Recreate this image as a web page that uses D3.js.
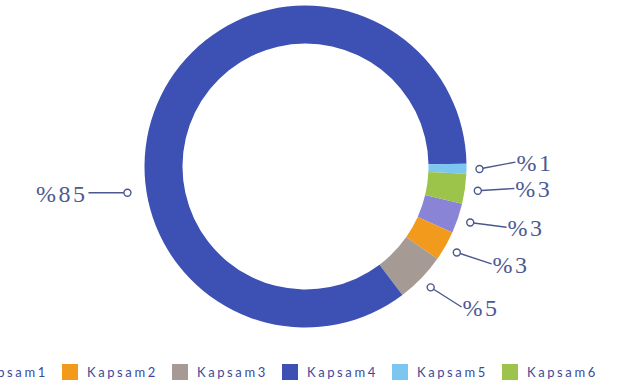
<!DOCTYPE html>
<html>
<head>
<meta charset="utf-8">
<script src="https://cdn.jsdelivr.net/npm/d3@7"></script>
<style>
  html, body { margin: 0; padding: 0; background: #ffffff; }
  svg { display: block; }
</style>
</head>
<body>
<svg id="chart" width="618" height="391"></svg>
<script>
// ---- data ----
const categories = ["Kapsam1", "Kapsam2", "Kapsam3", "Kapsam4", "Kapsam5", "Kapsam6"];
const values = [3, 3, 5, 85, 1, 3];
const colors = ["#8a84d6", "#f29a1c", "#a69a94", "#3d50b3", "#7cc6f0", "#9cc44b"];
const labels = ["%3", "%3", "%5", "%85", "%1", "%3"];

// ---- layout ----
const W = 618, H = 391;
const cx = 305.5, cy = 166.5;
const rOuter = 161, rInner = 123;
const rDot = 174, rEnd = 210;
const startDeg = 103.4;
const deg = Math.PI / 180;

const svg = d3.select("#chart");
const g = svg.append("g").attr("transform", `translate(${cx},${cy})`);

const pie = d3.pie().sort(null).value(d => d)
  .startAngle(startDeg * deg).endAngle(startDeg * deg + 2 * Math.PI);
const arcs = pie(values);
const arc = d3.arc().innerRadius(rInner).outerRadius(rOuter);

g.selectAll("path.slice").data(arcs).enter().append("path")
  .attr("class", "slice")
  .attr("d", arc)
  .attr("fill", (d, i) => colors[i]);

// label anchors
const lineColor = "#4a5790";
function pt(a, r) { return [Math.sin(a) * r, -Math.cos(a) * r]; }

arcs.forEach((d, i) => {
  const big = (d.endAngle - d.startAngle) > Math.PI;
  let a = (d.startAngle + d.endAngle) / 2;
  if (big) a = 261.6 * deg;
  const p0 = pt(a, big ? 180 : rDot);
  let p1;
  if (big) {
    p1 = [p0[0] - 39, p0[1]];
  } else {
    p1 = pt(a - 2 * deg, rEnd);
  }
  const dir = p1[0] < p0[0] ? -1 : 1;
  const len = Math.hypot(p1[0] - p0[0], p1[1] - p0[1]);
  const ux = (p1[0] - p0[0]) / len, uy = (p1[1] - p0[1]) / len;
  g.append("line")
    .attr("x1", p0[0] + ux * 3.5).attr("y1", p0[1] + uy * 3.5)
    .attr("x2", p1[0]).attr("y2", p1[1])
    .attr("stroke", lineColor).attr("stroke-width", 1.4);
  g.append("circle")
    .attr("cx", p0[0]).attr("cy", p0[1]).attr("r", 3.5)
    .attr("fill", "#ffffff").attr("stroke", lineColor).attr("stroke-width", 1.4);
  g.append("text")
    .attr("x", p1[0] + dir * 1)
    .attr("y", p1[1] + 1)
    .attr("text-anchor", dir < 0 ? "end" : "start")
    .attr("dominant-baseline", "central")
    .attr("font-family", "'Liberation Serif', 'DejaVu Serif', serif")
    .attr("font-size", 24)
    .attr("letter-spacing", 2.5)
    .attr("fill", "#4d5a92")
    .text(labels[i]);
});

// ---- legend ----
const legX = d3.scalePoint().domain(categories).range([-48, 502]);
const leg = svg.append("g");
categories.forEach((c, i) => {
  const x = legX(c);
  leg.append("rect")
    .attr("x", x).attr("y", 364).attr("width", 16).attr("height", 16)
    .attr("fill", colors[i]);
  leg.append("text")
    .attr("x", x + 25).attr("y", 372)
    .attr("dominant-baseline", "central")
    .attr("font-family", "Lato, 'Noto Sans', sans-serif")
    .attr("font-size", 13)
    .attr("letter-spacing", 2.6)
    .attr("fill", "#3b4a9c")
    .text(c);
});
</script>
</body>
</html>
